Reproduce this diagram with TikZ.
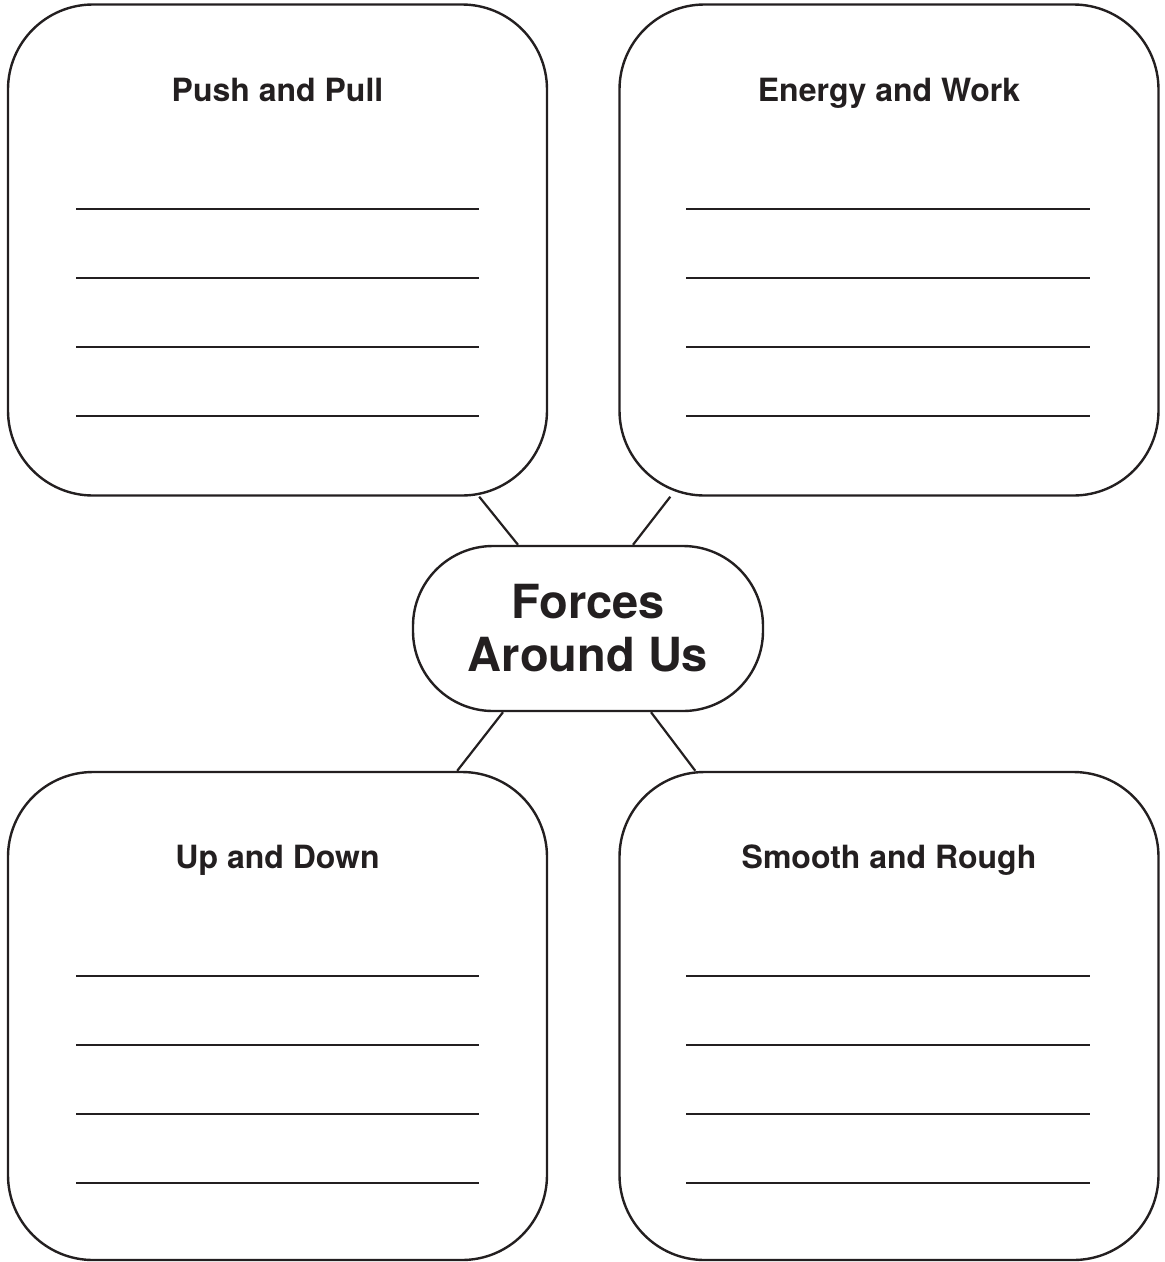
\documentclass[tikz,border=0pt]{standalone}
\usepackage{fontspec}
\setmainfont{TeX Gyre Heros}
\definecolor{inkc}{HTML}{231F20}
\begin{document}
\begin{tikzpicture}[x=1pt,y=-1pt,
  card/.style={draw=inkc, line width=2.4pt, rounded corners=85pt,
    minimum width=539pt, inner sep=0pt},
  hub/.style={draw=inkc, line width=2.4pt, rounded corners=80pt,
    minimum width=350pt, minimum height=165pt, align=center,
    font=\fontsize{47}{53}\selectfont\bfseries, text=inkc},
  heading/.style={font=\fontsize{32}{38}\selectfont\bfseries, text=inkc,
    anchor=base, inner sep=0pt},
  writeline/.style={draw=inkc, line width=1.8pt},
  link/.style={draw=inkc, line width=2.2pt}]

\useasboundingbox (0,0) rectangle (1165,1262);

% four topic cards
\node[card, minimum height=491pt] (tl) at (277.5,250) {};
\node[card, minimum height=491pt] (tr) at (889,250) {};
\node[card, minimum height=488pt] (bl) at (277.5,1016) {};
\node[card, minimum height=488pt] (br) at (889,1016) {};

% central topic
\node[hub] (hub) at (588,628.5) {Forces\\Around Us};

% card headings
\node[heading] (tlh) at (277.5,101.5) {Push and Pull};
\node[heading] (trh) at (889,101.5) {Energy and Work};
\node[heading] (blh) at (277.5,868.5) {Up and Down};
\node[heading] (brh) at (889,868.5) {Smooth and Rough};

% writing lines
\foreach \y in {209,278,347,416} {
  \draw[writeline] (76,\y) -- (479,\y);
  \draw[writeline] (686,\y) -- (1090,\y);
}
\foreach \y in {976,1045,1114,1183} {
  \draw[writeline] (76,\y) -- (479,\y);
  \draw[writeline] (686,\y) -- (1090,\y);
}

% connectors from the hub to the cards
\draw[link] ([xshift=-69pt]tl.south east) -- ([xshift=-70pt]hub.north);
\draw[link] ([xshift=52pt]tr.south west) -- ([xshift=45pt]hub.north);
\draw[link] ([xshift=-85pt]hub.south) -- ([xshift=-91pt]bl.north east);
\draw[link] ([xshift=63pt]hub.south) -- ([xshift=77pt]br.north west);
\end{tikzpicture}
\end{document}
